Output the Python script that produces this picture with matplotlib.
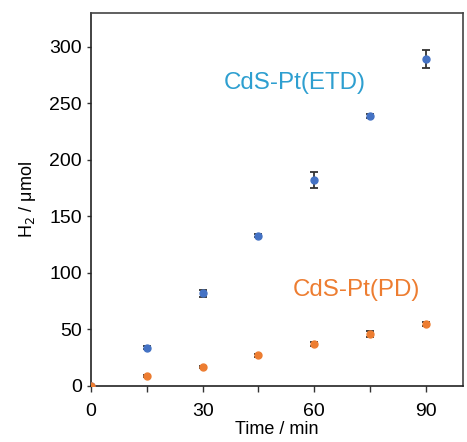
import matplotlib
matplotlib.use("Agg")
import matplotlib.pyplot as plt

plt.rcParams['font.family'] = ['Liberation Sans', 'DejaVu Sans']

time = [0, 15, 30, 45, 60, 75, 90]
etd = [0, 34, 82, 133, 182, 239, 289]
etd_err = [0, 1, 3, 1.5, 7, 2, 8]
pd_vals = [0, 9, 17, 27, 37, 46, 55]
pd_err = [0, 1, 1, 1, 1.5, 3, 1.5]

fig = plt.figure(figsize=(4.67, 4.42), dpi=100)
ax = fig.add_axes([91/467, 1-386/442, (463-91)/467, (386-13)/442])

ax.errorbar(time, etd, yerr=etd_err, fmt='o', color='#4472C4', ms=5,
            ecolor='#333333', elinewidth=1.3, capsize=3, capthick=1.3, zorder=3)
ax.errorbar(time, pd_vals, yerr=pd_err, fmt='o', color='#ED7D31', ms=5,
            ecolor='#333333', elinewidth=1.3, capsize=3, capthick=1.3, zorder=4)

ax.text(54.7, 268, 'CdS-Pt(ETD)', color='#2E9FD0', fontsize=17.4, ha='center', va='center')
ax.text(71.4, 85, 'CdS-Pt(PD)', color='#ED7D31', fontsize=17.4, ha='center', va='center')

ax.set_xlim(0, 100)
ax.set_ylim(0, 330)
ax.set_xticks([0, 15, 30, 45, 60, 75, 90])
ax.set_xticklabels(['0', '', '30', '', '60', '', '90'])
ax.set_yticks([0, 50, 100, 150, 200, 250, 300])
ax.tick_params(axis='both', labelsize=14, direction='out', length=4, width=1, color='#333333')
ax.tick_params(axis='x', pad=8)
ax.tick_params(axis='y', length=3)
ax.set_xlabel('Time / min', fontsize=13, labelpad=1)
ax.set_ylabel('H$_2$ / μmol', fontsize=13, labelpad=8)

for s in ['left', 'bottom']:
    ax.spines[s].set_color('#222222')
    ax.spines[s].set_linewidth(1.2)
for s in ['top', 'right']:
    ax.spines[s].set_color('#444444')
    ax.spines[s].set_linewidth(1.2)

fig.savefig('out.png', dpi=100)
